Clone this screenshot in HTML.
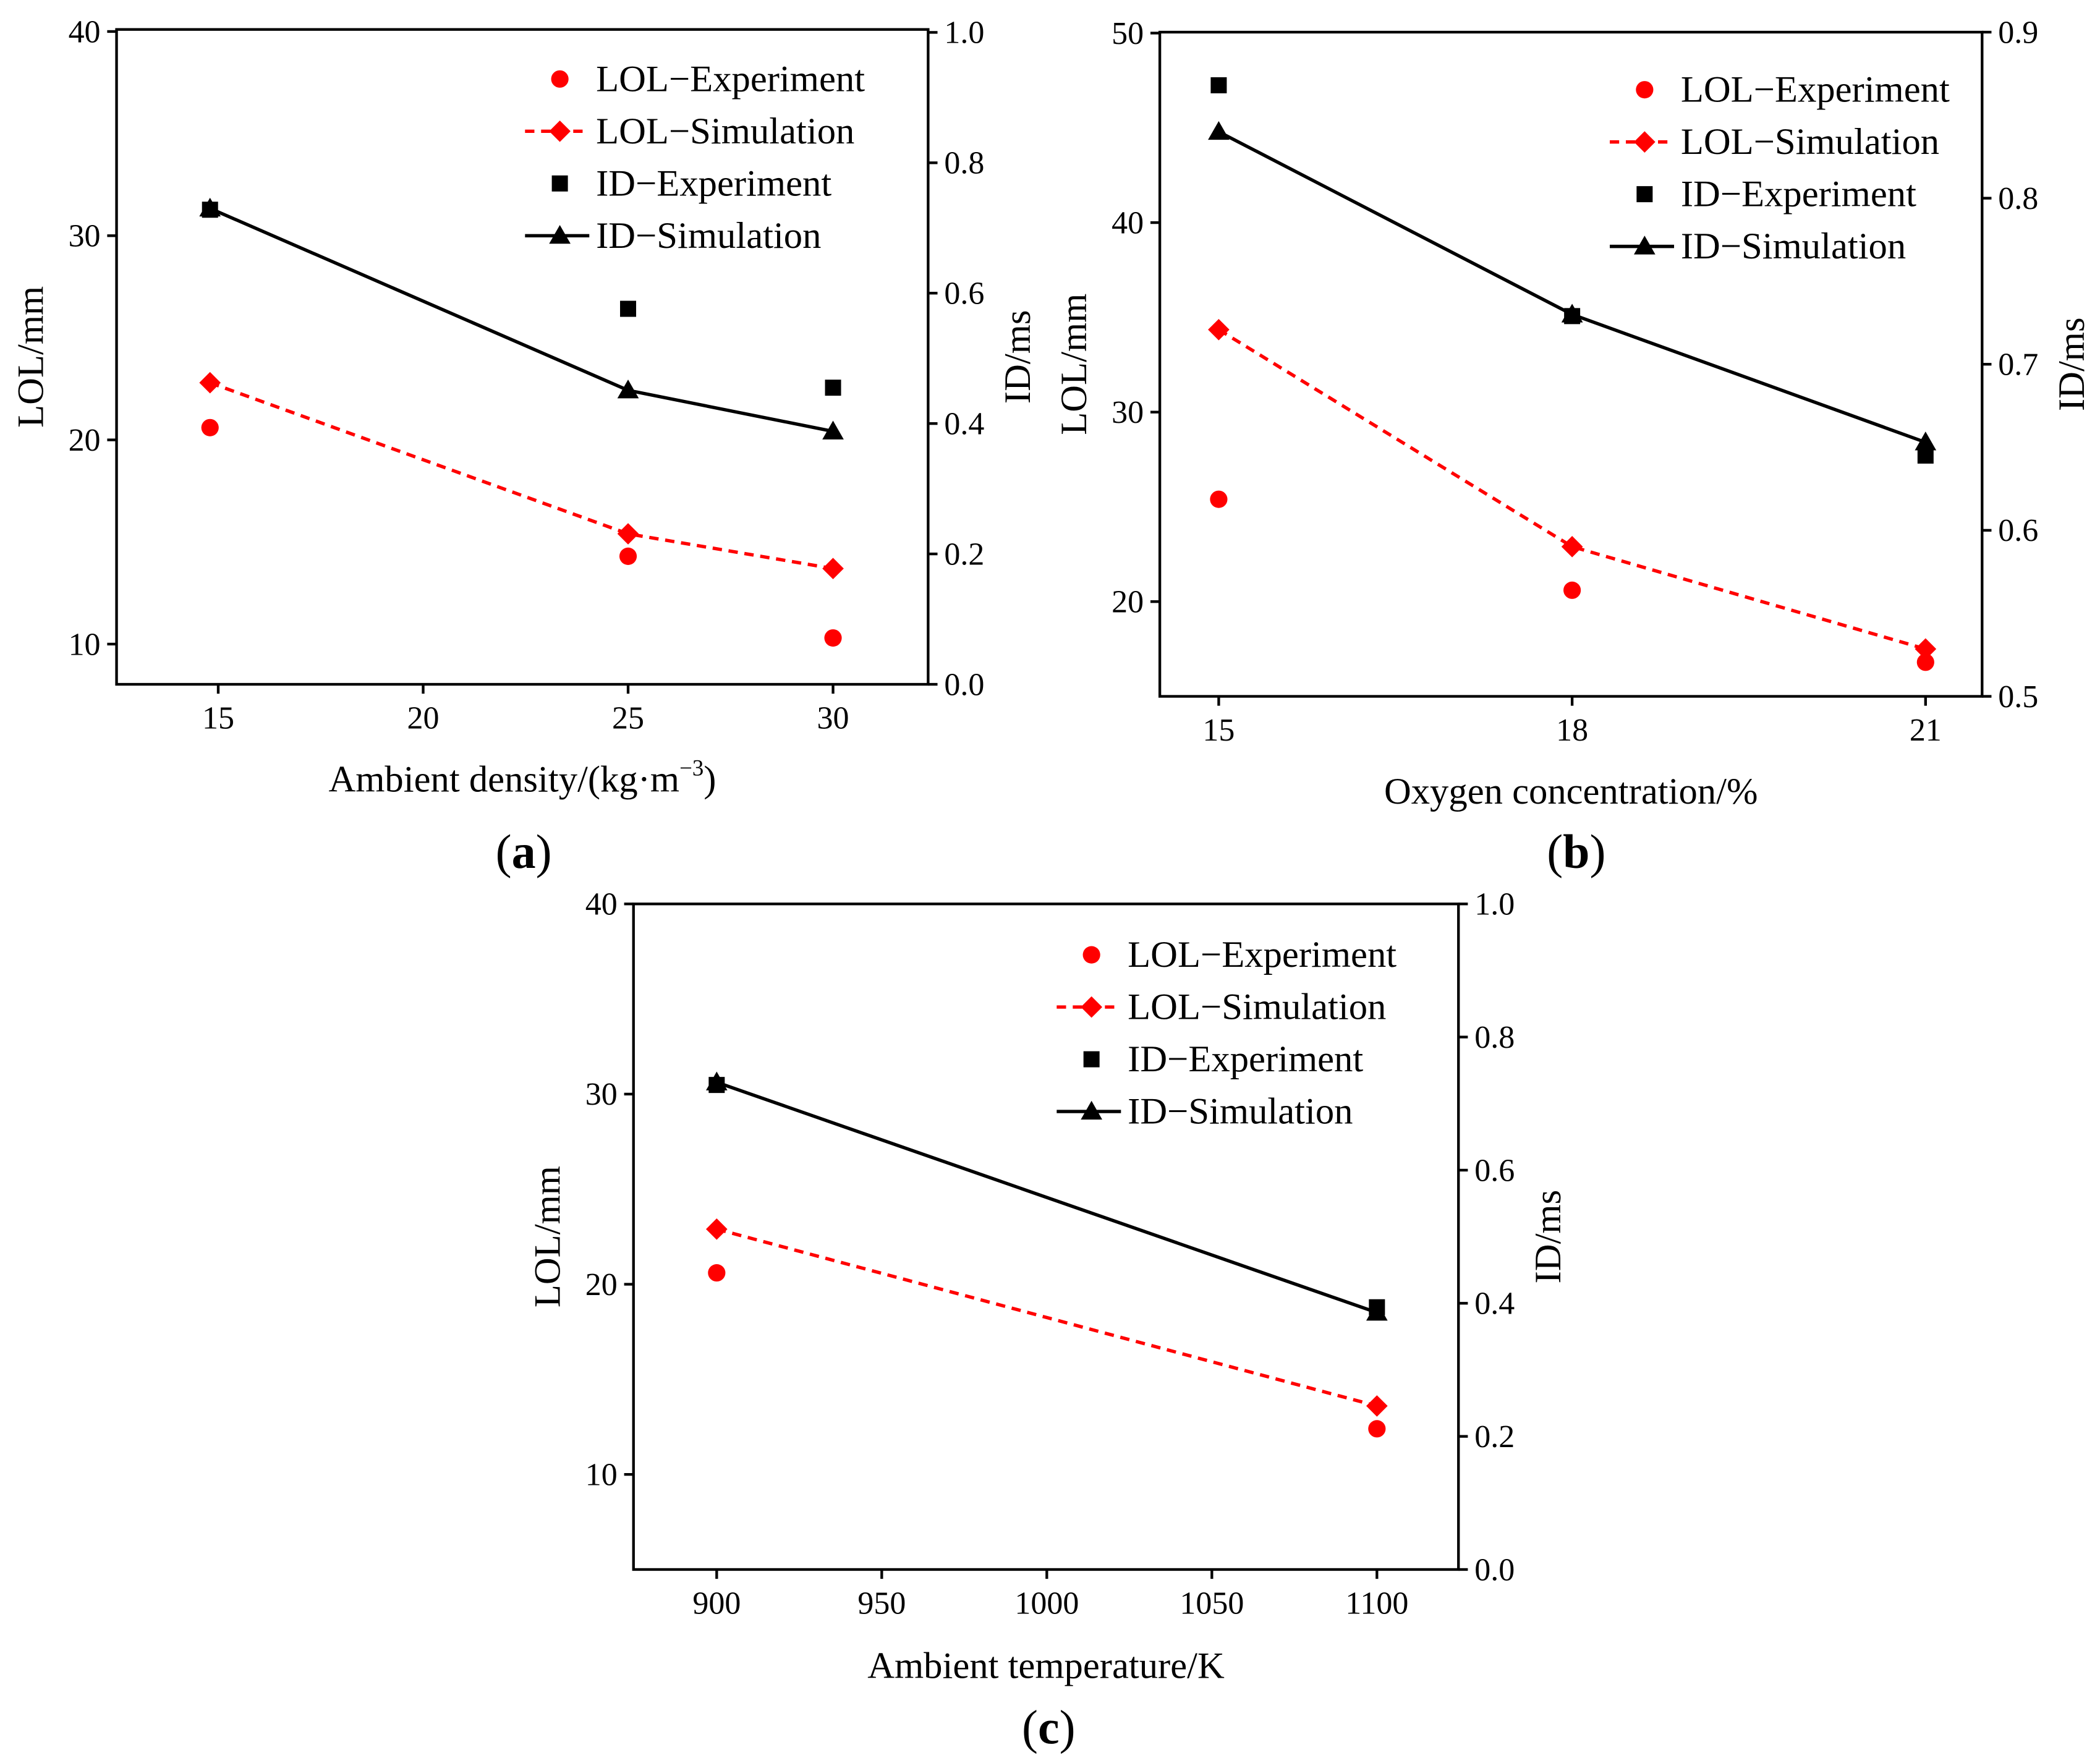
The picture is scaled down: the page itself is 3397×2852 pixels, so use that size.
<!DOCTYPE html>
<html><head><meta charset="utf-8"><style>
html,body{margin:0;padding:0;background:#fff;}
svg{display:block;font-family:"Liberation Serif",serif;}
</style></head><body>
<svg id="fig" width="3397" height="2852" viewBox="0 0 1568 1316.5" xmlns="http://www.w3.org/2000/svg"></svg>
<script>
// Panel (a) data
const aX = [14.8, 25, 30];
const aLolExp = [20.6, 14.3, 10.3];
const aLolSim = [22.8, 15.4, 13.7];
const aIdExp = [0.728, 0.576, 0.455];
const aIdSim = [0.730, 0.451, 0.388];
const aXTicks = [15, 20, 25, 30];
const aYTicks = [10, 20, 30, 40];
const aY2Ticks = ["0.0", "0.2", "0.4", "0.6", "0.8", "1.0"];
// Panel (b) data
const bX = [15, 18, 21];
const bLolExp = [25.4, 20.6, 16.8];
const bLolSim = [34.35, 22.9, 17.5];
const bIdExp = [0.868, 0.729, 0.645];
const bIdSim = [0.840, 0.730, 0.653];
const bXTicks = [15, 18, 21];
const bYTicks = [20, 30, 40, 50];
const bY2Ticks = ["0.5", "0.6", "0.7", "0.8", "0.9"];
// Panel (c) data
const cX = [900, 1100];
const cLolExp = [20.6, 12.4];
const cLolSim = [22.9, 13.6];
const cIdExp = [0.728, 0.394];
const cIdSim = [0.732, 0.386];
const cXTicks = [900, 950, 1000, 1050, 1100];
const cYTicks = [10, 20, 30, 40];
const cY2Ticks = ["0.0", "0.2", "0.4", "0.6", "0.8", "1.0"];

const NS = "http://www.w3.org/2000/svg";
const svg = document.getElementById('fig');
function el(tag, attrs, parent, text) {
  const e = document.createElementNS(NS, tag);
  for (const k in attrs) e.setAttribute(k, attrs[k]);
  if (text !== undefined) e.textContent = text;
  (parent || svg).appendChild(e);
  return e;
}
function marker(g, type, x, y, color) {
  let m;
  if (type === 'circle') m = el('circle', {cx: x, cy: y, r: 6.5, fill: color}, g);
  else if (type === 'square') m = el('rect', {x: x - 6, y: y - 6, width: 12, height: 12, fill: color}, g);
  else if (type === 'diamond') m = el('polygon', {points: `${x},${y-8} ${x+8},${y} ${x},${y+8} ${x-8},${y}`, fill: color}, g);
  else m = el('polygon', {points: `${x},${y-8} ${x+8},${y+6} ${x-8},${y+6}`, fill: color}, g);
  return m;
}
function panel(p) {
  const g = el('g', {});
  
  
  const sx = v => p.x0 + (v - p.xmin) / (p.xmax - p.xmin) * (p.x1 - p.x0);
  const sy = v => p.y1 - (v - p.ymin) / (p.ymax - p.ymin) * (p.y1 - p.y0);
  const sy2 = v => p.y1 - (v - p.y2min) / (p.y2max - p.y2min) * (p.y1 - p.y0);
  const frame = el('rect', {x: p.x0, y: p.y0, width: p.x1 - p.x0, height: p.y1 - p.y0, fill: 'none', stroke: '#000', 'stroke-width': 2}, g);
  
  
  p.xt.forEach(t => {
    const x = sx(t);
    el('line', {x1: x, x2: x, y1: p.y1, y2: p.y1 + 7, stroke: '#000', 'stroke-width': 2}, g);
    const lt = el('text', {x: x, y: p.y1 + 33, 'font-size': 24, 'text-anchor': 'middle'}, g, t);
    
    
  });
  p.yt.forEach(t => {
    const y = sy(t);
    el('line', {x1: p.x0 - 7, x2: p.x0, y1: y, y2: y, stroke: '#000', 'stroke-width': 2}, g);
    const lt = el('text', {x: p.x0 - 12, y: y + 8, 'font-size': 24, 'text-anchor': 'end'}, g, t);
    
    
  });
  p.y2t.forEach(t => {
    const y = sy2(parseFloat(t));
    el('line', {x1: p.x1, x2: p.x1 + 7, y1: y, y2: y, stroke: '#000', 'stroke-width': 2}, g);
    const lt = el('text', {x: p.x1 + 12, y: y + 8, 'font-size': 24}, g, t);
    
    
  });
  const xt = el('text', {x: (p.x0 + p.x1) / 2, y: p.xtY, 'font-size': 28, 'text-anchor': 'middle'}, g);
  
  
  xt.textContent = p.xtitle;
  if (p.sup) { el('tspan', {'font-size': 17, dy: -12}, xt, p.sup); el('tspan', {dy: 12}, xt, ')'); }
  const yt = el('text', {x: 0, y: 0, 'font-size': 28, 'text-anchor': 'middle', transform: `translate(${p.x0 - 55},${(p.y0 + p.y1) / 2}) rotate(-90)`}, g, 'LOL/mm');
  
  
  const y2 = el('text', {x: 0, y: 0, 'font-size': 28, 'text-anchor': 'middle', transform: `translate(${p.x1 + 76},${(p.y0 + p.y1) / 2}) rotate(-90)`}, g, 'ID/ms');
  
  
  const lab = el('text', {x: p.labX, y: p.labY, 'font-size': 36, 'text-anchor': 'middle'}, g);
  
  
  el('tspan', {}, lab, '(');
  el('tspan', {'font-weight': 'bold'}, lab, p.id);
  el('tspan', {}, lab, ')');
  const sLolSim = el('polyline', {points: p.xs.map((v, i) => sx(v) + ',' + sy(p.lolSim[i])).join(' '), fill: 'none', stroke: '#ff0000', 'stroke-width': 2.5, 'stroke-dasharray': '7,5'}, g);
  
  
  const sIdSim = el('polyline', {points: p.xs.map((v, i) => sx(v) + ',' + sy2(p.idSim[i])).join(' '), fill: 'none', stroke: '#000', 'stroke-width': 2.5}, g);
  
  
  p.xs.forEach((v, i) => {
    const x = sx(v);
    const m1 = marker(g, 'circle', x, sy(p.lolExp[i]), '#ff0000');
    
    
    const m2 = marker(g, 'diamond', x, sy(p.lolSim[i]), '#ff0000');
    
    
    const m3 = marker(g, 'square', x, sy2(p.idExp[i]), '#000');
    
    
    const m4 = marker(g, 'triangle', x, sy2(p.idSim[i]), '#000');
    
    
  });
  const lg = el('g', {}, g);
  
  
  const names = ['LOL\u2212Experiment', 'LOL\u2212Simulation', 'ID\u2212Experiment', 'ID\u2212Simulation'];
  const types = ['circle', 'diamond', 'square', 'triangle'];
  const cols = ['#ff0000', '#ff0000', '#000', '#000'];
  names.forEach((n, i) => {
    const y = p.legY + i * 39;
    if (i === 1) el('line', {x1: p.legX - 26, x2: p.legX + 22, y1: y, y2: y, stroke: '#ff0000', 'stroke-width': 2.5, 'stroke-dasharray': '7,5'}, lg);
    if (i === 3) el('line', {x1: p.legX - 26, x2: p.legX + 22, y1: y, y2: y, stroke: '#000', 'stroke-width': 2.5}, lg);
    marker(lg, types[i], p.legX, y, cols[i]);
    const t = el('text', {x: p.legX + 27, y: y + 9, 'font-size': 28}, lg, n);
    
    
  });
}
panel({id: 'a', x0: 87, x1: 693, y0: 22, y1: 511, xmin: 12.52, xmax: 32.32, ymin: 8.03, ymax: 40.1, y2min: 0, y2max: 1.0045,
  xs: aX, lolExp: aLolExp, lolSim: aLolSim, idExp: aIdExp, idSim: aIdSim, xt: aXTicks, yt: aYTicks, y2t: aY2Ticks,
  xtitle: 'Ambient density/(kg\u00b7m', sup: '\u22123', xtY: 591, labX: 391, labY: 648, legX: 418, legY: 59});
panel({id: 'b', x0: 866, x1: 1480, y0: 24, y1: 520, xmin: 14.5, xmax: 21.48, ymin: 15, ymax: 50.05, y2min: 0.5, y2max: 0.9,
  xs: bX, lolExp: bLolExp, lolSim: bLolSim, idExp: bIdExp, idSim: bIdSim, xt: bXTicks, yt: bYTicks, y2t: bY2Ticks,
  xtitle: 'Oxygen concentration/%', xtY: 600, labX: 1177, labY: 648, legX: 1228, legY: 67});
panel({id: 'c', x0: 473, x1: 1089, y0: 675, y1: 1172, xmin: 874.8, xmax: 1124.7, ymin: 5, ymax: 40, y2min: 0, y2max: 1.0,
  xs: cX, lolExp: cLolExp, lolSim: cLolSim, idExp: cIdExp, idSim: cIdSim, xt: cXTicks, yt: cYTicks, y2t: cY2Ticks,
  xtitle: 'Ambient temperature/K', xtY: 1253, labX: 783, labY: 1302, legX: 815, legY: 713});
</script>
</body></html>
